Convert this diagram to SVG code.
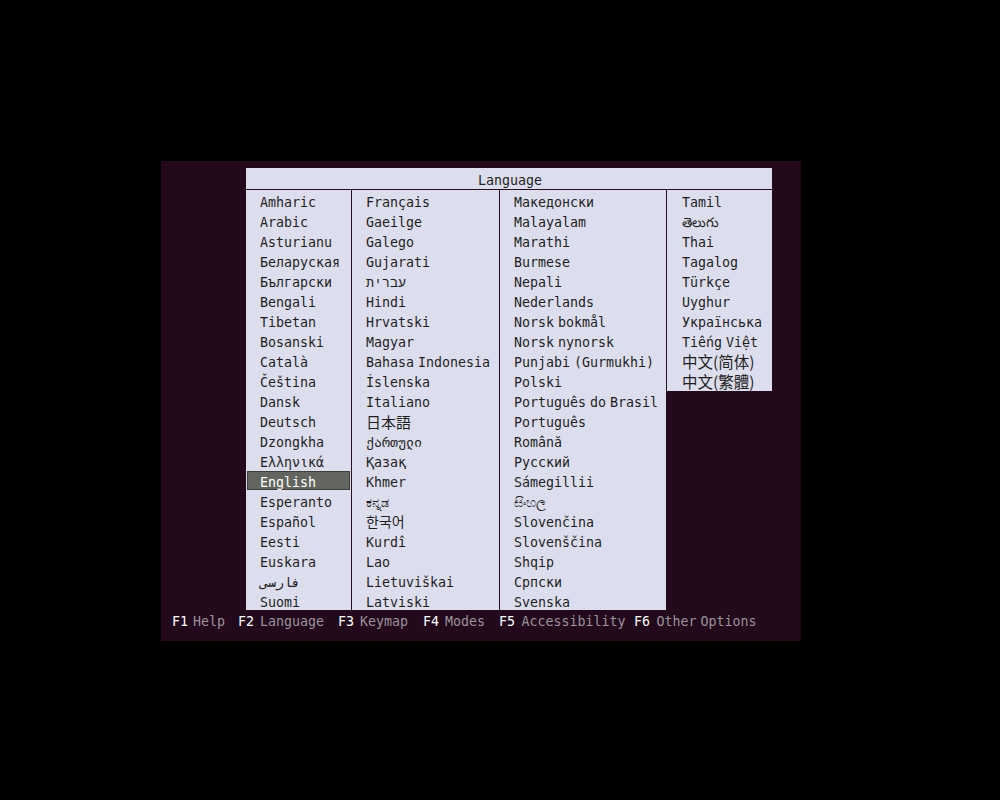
<svg xmlns="http://www.w3.org/2000/svg" width="1000" height="800" viewBox="0 0 1000 800">
<style>
text{font-family:"DejaVu Sans Mono","Liberation Mono","Noto Sans CJK SC",monospace;font-size:13.3px;fill:#1e1e1e;word-spacing:-4px}
.cjk{font-family:"Noto Sans CJK JP","Noto Sans CJK SC",sans-serif;font-size:15px}
.ko{font-family:"Noto Sans CJK KR",sans-serif;font-size:14px}
.sc{font-family:"Noto Sans CJK SC",sans-serif;font-size:15.5px}
.tc{font-family:"Noto Sans CJK TC",sans-serif;font-size:15.5px}
.sel{fill:#ffffff}
.key{fill:#ffffff;word-spacing:0}
.lbl{fill:#9c929a}
.sep{stroke:#2a0f22;stroke-width:1}
</style>
<rect width="1000" height="800" fill="#000"/>
<rect x="161" y="161" width="640" height="480" fill="#220a1c"/>
<g id="panel">
<rect x="246" y="168" width="526" height="21" fill="#dddeed"/>
<rect x="246" y="190" width="420" height="420" fill="#dddeed"/>
<rect x="667" y="190" width="105" height="201" fill="#dddeed"/>
<line class="sep" x1="246" y1="189.5" x2="772" y2="189.5"/>
<line class="sep" x1="351.5" y1="190" x2="351.5" y2="610"/>
<line class="sep" x1="499.5" y1="190" x2="499.5" y2="610"/>
<line class="sep" x1="666.5" y1="190" x2="666.5" y2="391"/>
<text x="478" y="185">Language</text>
</g>
<g id="col1">
<rect x="247.5" y="471.5" width="102" height="18" fill="#63665e" stroke="#3e3f3a"/>
<text x="260" y="207">Amharic</text>
<text x="260" y="227">Arabic</text>
<text x="260" y="247">Asturianu</text>
<text x="260" y="267">Беларуская</text>
<text x="260" y="287">Български</text>
<text x="260" y="307">Bengali</text>
<text x="260" y="327">Tibetan</text>
<text x="260" y="347">Bosanski</text>
<text x="260" y="367">Català</text>
<text x="260" y="387">Čeština</text>
<text x="260" y="407">Dansk</text>
<text x="260" y="427">Deutsch</text>
<text x="260" y="447">Dzongkha</text>
<text x="260" y="467">Ελληνικά</text>
<text x="260" y="487" class="sel">English</text>
<text x="260" y="507">Esperanto</text>
<text x="260" y="527">Español</text>
<text x="260" y="547">Eesti</text>
<text x="260" y="567">Euskara</text>
<text x="260" y="587">فارسی</text>
<text x="260" y="607">Suomi</text>
</g>
<g id="col2">
<text x="366" y="207">Français</text>
<text x="366" y="227">Gaeilge</text>
<text x="366" y="247">Galego</text>
<text x="366" y="267">Gujarati</text>
<text x="366" y="287">עברית</text>
<text x="366" y="307">Hindi</text>
<text x="366" y="327">Hrvatski</text>
<text x="366" y="347">Magyar</text>
<text x="366" y="367">Bahasa Indonesia</text>
<text x="366" y="387">Íslenska</text>
<text x="366" y="407">Italiano</text>
<text x="366" y="428" class="cjk">日本語</text>
<text x="366" y="447">ქართული</text>
<text x="366" y="467">Қазақ</text>
<text x="366" y="487">Khmer</text>
<text x="366" y="507">ಕನ್ನಡ</text>
<text x="366" y="527" class="ko">한국어</text>
<text x="366" y="547">Kurdî</text>
<text x="366" y="567">Lao</text>
<text x="366" y="587">Lietuviškai</text>
<text x="366" y="607">Latviski</text>
</g>
<g id="col3">
<text x="514" y="207">Македонски</text>
<text x="514" y="227">Malayalam</text>
<text x="514" y="247">Marathi</text>
<text x="514" y="267">Burmese</text>
<text x="514" y="287">Nepali</text>
<text x="514" y="307">Nederlands</text>
<text x="514" y="327">Norsk bokmål</text>
<text x="514" y="347">Norsk nynorsk</text>
<text x="514" y="367">Punjabi (Gurmukhi)</text>
<text x="514" y="387">Polski</text>
<text x="514" y="407">Português do Brasil</text>
<text x="514" y="427">Português</text>
<text x="514" y="447">Română</text>
<text x="514" y="467">Русский</text>
<text x="514" y="487">Sámegillii</text>
<text x="514" y="507">සිංහල</text>
<text x="514" y="527">Slovenčina</text>
<text x="514" y="547">Slovenščina</text>
<text x="514" y="567">Shqip</text>
<text x="514" y="587">Српски</text>
<text x="514" y="607">Svenska</text>
</g>
<g id="col4">
<text x="682" y="207">Tamil</text>
<text x="682" y="227">తెలుగు</text>
<text x="682" y="247">Thai</text>
<text x="682" y="267">Tagalog</text>
<text x="682" y="287">Türkçe</text>
<text x="682" y="307">Uyghur</text>
<text x="682" y="327">Українська</text>
<text x="682" y="347">Tiếng Việt</text>
<text x="682" y="368" class="sc">中文(简体)</text>
<text x="682" y="388" class="tc">中文(繁體)</text>
</g>
<g id="footer">
<text x="172" y="625.5" class="key">F1</text><text x="193" y="625.5" class="lbl">Help</text>
<text x="238" y="625.5" class="key">F2</text><text x="260" y="625.5" class="lbl">Language</text>
<text x="338" y="625.5" class="key">F3</text><text x="360" y="625.5" class="lbl">Keymap</text>
<text x="423" y="625.5" class="key">F4</text><text x="445" y="625.5" class="lbl">Modes</text>
<text x="499" y="625.5" class="key">F5</text><text x="521.5" y="625.5" class="lbl">Accessibility</text>
<text x="634" y="625.5" class="key">F6</text><text x="656.5" y="625.5" class="lbl">Other Options</text>
</g>
</svg>
